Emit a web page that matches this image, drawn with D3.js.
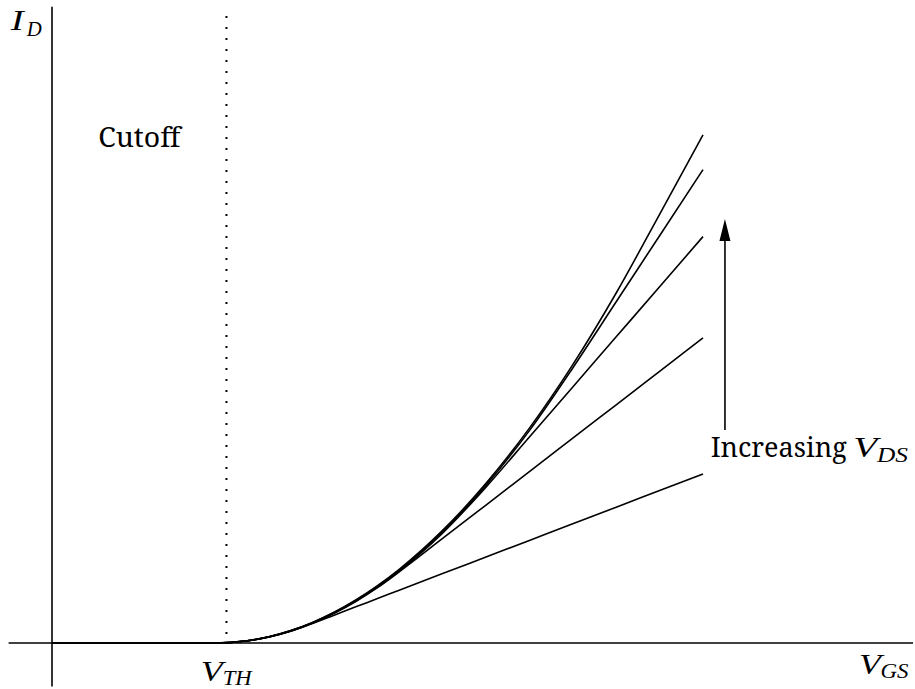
<!DOCTYPE html>
<html>
<head>
<meta charset="utf-8">
<script src="https://cdn.jsdelivr.net/npm/d3@7"></script>
<style>
  body { margin: 0; background: #fff; }
  text { fill: #000; font-family: "Noto Serif", "DejaVu Serif", serif; }
  text.math { font-family: "Liberation Serif", "Times New Roman", serif; font-style: italic; }
</style>
</head>
<body>
<script>
//Width and height
var w = 915;
var h = 689;

// VGS sample points (shared by all curves)
var vgs = [0, 1.88, 2.25, 2.5, 2.75, 3.0, 3.25, 3.5, 3.75, 4.0, 4.5, 5.0, 5.5, 6.0, 6.5, 7.0, 7.5];

// ID, one list per VDS (lowest to highest)
var id1 = [0, 0, 0.0247, 0.0692, 0.1363, 0.2253, 0.3210, 0.4166, 0.5123, 0.6079, 0.7993, 0.9906, 1.1819, 1.3732, 1.5646, 1.7559, 1.9472];
var id2 = [0, 0, 0.0250, 0.0700, 0.1380, 0.2286, 0.3421, 0.4784, 0.6375, 0.8193, 1.2043, 1.5893, 1.9743, 2.3593, 2.7443, 3.1293, 3.5143];
var id3 = [0, 0, 0.0253, 0.0709, 0.1397, 0.2314, 0.3463, 0.4842, 0.6452, 0.8292, 1.2665, 1.7960, 2.3731, 2.9502, 3.5273, 4.1044, 4.6816];
var id4 = [0, 0, 0.0256, 0.0718, 0.1414, 0.2342, 0.3505, 0.4900, 0.6530, 0.8392, 1.2817, 1.8176, 2.4468, 3.1690, 3.9308, 4.6925, 5.4543];
var id5 = [0, 0, 0.0259, 0.0726, 0.1431, 0.2370, 0.3546, 0.4958, 0.6607, 0.8491, 1.2969, 1.8391, 2.4758, 3.2070, 4.0325, 4.9381, 5.8529];
var curves = [id1, id2, id3, id4, id5];

// threshold voltage and axis extents
var vth = 2.01;
var xExtent = [-0.5, 9.92];
var yExtent = [-0.5, 7.33];
var dottedTop = 7.24;

//Scales (same unit length on both axes)
var x = d3.scaleLinear().domain([0, 7.5]).range([52, 703]);
var y = d3.scaleLinear().domain([0, 7]).range([643, 35.4]);

//Create SVG element
var svg = d3.select("body").append("svg").attr("width", w).attr("height", h);

// axes
svg.append("line")
  .attr("x1", x(xExtent[0])).attr("x2", x(xExtent[1]))
  .attr("y1", y(0)).attr("y2", y(0))
  .style("stroke", "#000").style("stroke-width", 1.6);

svg.append("line")
  .attr("x1", x(0)).attr("x2", x(0))
  .attr("y1", y(yExtent[0])).attr("y2", y(yExtent[1]))
  .style("stroke", "#000").style("stroke-width", 1.6);

// dotted threshold line
svg.append("line")
  .attr("x1", x(vth)).attr("x2", x(vth))
  .attr("y1", y(0) - 9).attr("y2", y(dottedTop))
  .style("stroke", "#000")
  .style("stroke-width", 2)
  .style("stroke-dasharray", "2,9");

// curves
var line = d3.line()
  .x(function (d, i) { return x(vgs[i]); })
  .y(function (d) { return y(d); })
  .curve(d3.curveMonotoneX);

svg.selectAll(".curve")
  .data(curves)
  .enter()
  .append("path")
  .attr("class", "curve")
  .attr("d", line)
  .style("fill", "none")
  .style("stroke", "#000")
  .style("stroke-width", 1.6);

// arrow "Increasing VDS"
var arrowX = 7.753;
var arrowFrom = 2.454;
var arrowTo = 4.885;

svg.append("line")
  .attr("x1", x(arrowX)).attr("x2", x(arrowX))
  .attr("y1", y(arrowFrom)).attr("y2", y(arrowTo) + 18)
  .style("stroke", "#000").style("stroke-width", 1.6);

svg.append("path")
  .attr("d", "M" + x(arrowX) + "," + y(arrowTo) +
    " L" + (x(arrowX) + 5.5) + "," + (y(arrowTo) + 22) +
    " L" + (x(arrowX) - 5.5) + "," + (y(arrowTo) + 22) + " Z")
  .style("fill", "#000");

// labels
svg.append("text")
  .attr("x", 98.3).attr("y", 147.3)
  .attr("textLength", 82).attr("lengthAdjust", "spacingAndGlyphs")
  .style("font-size", "27px")
  .text("Cutoff");

svg.append("text")
  .attr("x", 710.7).attr("y", 457)
  .attr("textLength", 136).attr("lengthAdjust", "spacingAndGlyphs")
  .style("font-size", "27px")
  .text("Increasing");

// math style label: main letter + subscript
function mathLabel(x0, base, main, mainW, sub, subX, subW, subDy) {
  svg.append("text")
    .attr("class", "math")
    .attr("x", x0).attr("y", base)
    .attr("textLength", mainW).attr("lengthAdjust", "spacingAndGlyphs")
    .style("font-size", "29px")
    .text(main);
  svg.append("text")
    .attr("class", "math")
    .attr("x", subX).attr("y", base + subDy)
    .attr("textLength", subW).attr("lengthAdjust", "spacingAndGlyphs")
    .style("font-size", "20px")
    .text(sub);
}

mathLabel(853.3, 457, "V", 24, "DS", 877, 31, 4.5);
mathLabel(10.7, 30, "I", 13, "D", 26.7, 15, 6);
mathLabel(200.7, 681, "V", 22, "TH", 222.7, 29, 3.5);
mathLabel(859, 674, "V", 22, "GS", 880.5, 28, 3.5);
</script>
</body>
</html>
